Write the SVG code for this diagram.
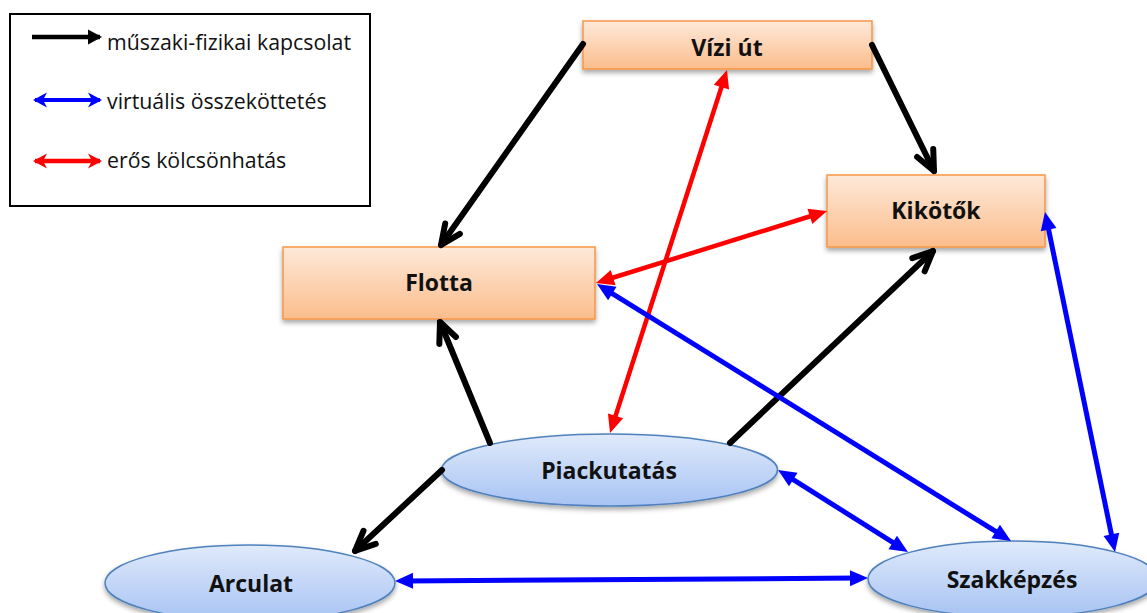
<svg xmlns="http://www.w3.org/2000/svg" width="1147" height="613" viewBox="0 0 1147 613">
<defs>
<linearGradient id="gOr" x1="0" y1="0" x2="0" y2="1"><stop offset="0" stop-color="#fee9da"/><stop offset="1" stop-color="#fbbd8c"/></linearGradient>
<linearGradient id="gBl" x1="0" y1="0" x2="0" y2="1"><stop offset="0" stop-color="#e0eafb"/><stop offset="1" stop-color="#a7c3f3"/></linearGradient>
<filter id="sh" x="-20%" y="-20%" width="140%" height="160%"><feDropShadow dx="0" dy="3" stdDeviation="2.5" flood-color="#000" flood-opacity="0.35"/></filter>
<marker id="mBlk" markerUnits="userSpaceOnUse" orient="auto" refX="0" refY="0" markerWidth="40" markerHeight="40" viewBox="-30 -20 40 40" overflow="visible"><path d="M-20,-9 L0,0 L-20,9" fill="none" stroke="#000" stroke-width="6" stroke-linecap="round" stroke-linejoin="round"/></marker>
<marker id="mBlue" markerUnits="userSpaceOnUse" orient="auto-start-reverse" refX="0" refY="0" markerWidth="40" markerHeight="40" viewBox="-20 -20 40 40" overflow="visible"><path d="M10,0 L-8,-8 L-8,8 Z" fill="#0000ff"/></marker>
<marker id="mRed" markerUnits="userSpaceOnUse" orient="auto-start-reverse" refX="0" refY="0" markerWidth="40" markerHeight="40" viewBox="-20 -20 40 40" overflow="visible"><path d="M10,0 L-8,-8 L-8,8 Z" fill="#ff0000"/></marker>
<marker id="mLegBlk" markerUnits="userSpaceOnUse" orient="auto" refX="0" refY="0" markerWidth="30" markerHeight="30" viewBox="-15 -15 30 30" overflow="visible"><path d="M2,0 L-12,-7.5 L-12,7.5 Z" fill="#000"/></marker>
<marker id="mLegBlue" markerUnits="userSpaceOnUse" orient="auto-start-reverse" refX="0" refY="0" markerWidth="30" markerHeight="30" viewBox="-15 -15 30 30" overflow="visible"><path d="M2,0 L-12,-7.5 L-8,0 L-12,7.5 Z" fill="#0000ff"/></marker>
<marker id="mLegRed" markerUnits="userSpaceOnUse" orient="auto-start-reverse" refX="0" refY="0" markerWidth="30" markerHeight="30" viewBox="-15 -15 30 30" overflow="visible"><path d="M2,0 L-12,-7.5 L-8,0 L-12,7.5 Z" fill="#ff0000"/></marker>
</defs>
<style>
.rect{fill:url(#gOr);stroke:#f79646;stroke-width:1.5;filter:url(#sh)}
.ell{fill:url(#gBl);stroke:#4f81bd;stroke-width:1.5;filter:url(#sh)}
.lbl{font-family:"Open Sans","Liberation Sans",sans-serif;font-weight:bold;font-size:23px;fill:#111;text-anchor:middle}
.leg{font-family:"Open Sans","Liberation Sans",sans-serif;font-size:21.3px;fill:#111}
.blk{stroke:#000;stroke-width:6;stroke-linecap:round;fill:none;marker-end:url(#mBlk)}
.blue{stroke:#0000ff;stroke-width:5;fill:none;marker-start:url(#mBlue);marker-end:url(#mBlue)}
.red{stroke:#ff0000;stroke-width:4.5;fill:none;marker-start:url(#mRed);marker-end:url(#mRed)}
</style>
<rect width="1147" height="613" fill="#fff"/>
<g id="legend">
<rect x="10" y="14" width="360" height="192" fill="#fff" stroke="#000" stroke-width="2"/>
<line x1="32" y1="37" x2="100" y2="37" stroke="#000" stroke-width="4.5" marker-end="url(#mLegBlk)"/>
<line x1="35" y1="100" x2="100" y2="100" stroke="#0000ff" stroke-width="4" marker-start="url(#mLegBlue)" marker-end="url(#mLegBlue)"/>
<line x1="35" y1="161" x2="100" y2="161" stroke="#ff0000" stroke-width="4.5" marker-start="url(#mLegRed)" marker-end="url(#mLegRed)"/>
<text class="leg" x="107" y="50">műszaki-fizikai kapcsolat</text>
<text class="leg" x="107" y="109">virtuális összeköttetés</text>
<text class="leg" x="107" y="168">erős kölcsönhatás</text>
</g>
<g id="vizi-ut"><rect class="rect" x="583" y="21" width="289" height="48"/><text class="lbl" x="727" y="56">Vízi út</text></g>
<g id="kikotok"><rect class="rect" x="827" y="175" width="218" height="72"/><text class="lbl" x="936" y="219">Kikötők</text></g>
<g id="flotta"><rect class="rect" x="283" y="247" width="312" height="72"/><text class="lbl" x="439" y="291">Flotta</text></g>
<g id="piackutatas"><ellipse class="ell" cx="609.5" cy="470" rx="168" ry="36"/><text class="lbl" x="609" y="479">Piackutatás</text></g>
<g id="arculat"><ellipse class="ell" cx="250" cy="583" rx="145" ry="38"/><text class="lbl" x="251" y="592">Arculat</text></g>
<g id="szakkepzes"><ellipse class="ell" cx="1013" cy="579" rx="145" ry="38"/><text class="lbl" x="1012" y="588">Szakképzés</text></g>
<g id="connectors">
<line class="blk" x1="583" y1="44" x2="441" y2="245"/>
<line class="blk" x1="872" y1="45" x2="934" y2="171"/>
<line class="blk" x1="490" y1="443" x2="440" y2="322"/>
<line class="blk" x1="730" y1="443" x2="933" y2="251"/>
<line class="blk" x1="442" y1="470" x2="355" y2="551"/>
<line class="red" x1="723.9" y1="79.5" x2="613.1" y2="423.5"/>
<line class="red" x1="605.5" y1="280" x2="817.5" y2="214"/>
<line class="blue" x1="605.5" y1="289.3" x2="1002.5" y2="535.7"/>
<line class="blue" x1="1047" y1="221.8" x2="1113" y2="542.2"/>
<line class="blue" x1="786.5" y1="475.3" x2="899.5" y2="546.7"/>
<line class="blue" x1="405" y1="580.9" x2="858" y2="578.1"/>
</g>
</svg>
